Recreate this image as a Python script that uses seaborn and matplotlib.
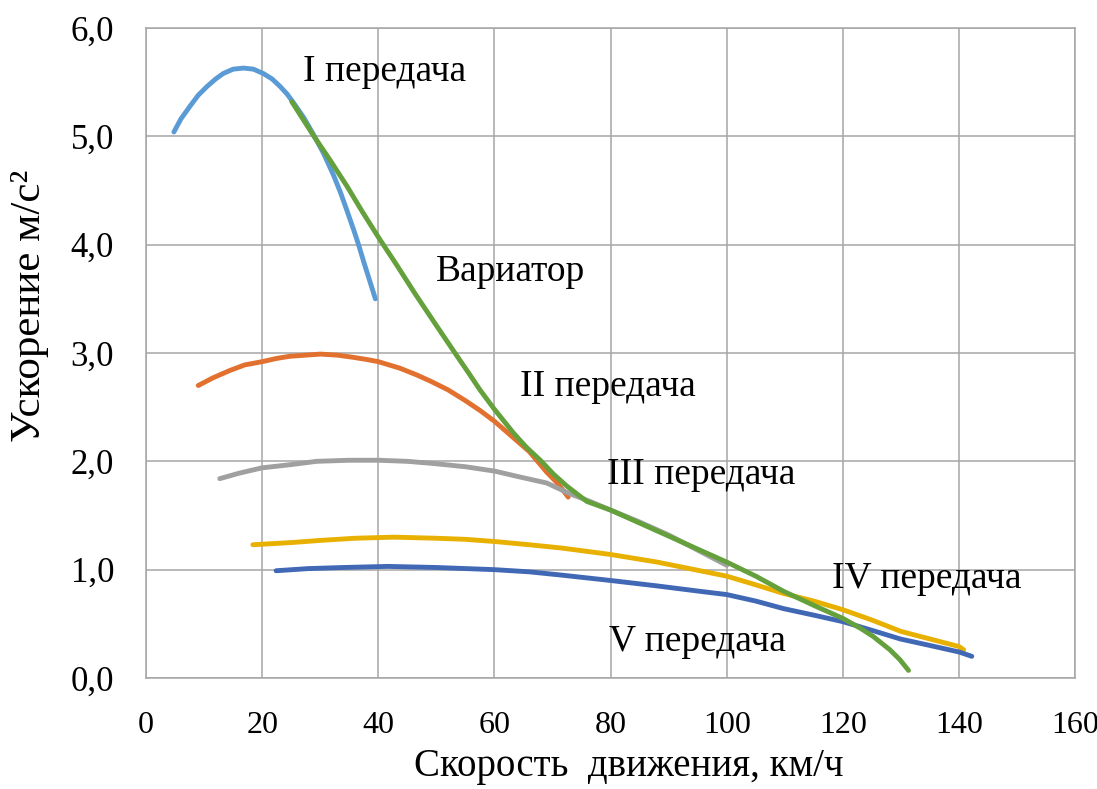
import numpy as np
import pandas as pd
import matplotlib
matplotlib.use("Agg")
import matplotlib.pyplot as plt
import seaborn as sns

# values (speed km/h, acceleration m/s^2)
gear1_x = [4.8, 6, 7.6, 9, 10.5, 12, 13.3, 15, 16.8, 18.5, 20.2, 21.7, 23.1, 24.3, 25.4, 27.2, 28.9, 30.6,
           32.3, 33.5, 34.7, 35.8, 36.6, 37.5, 38.5, 39.5]
gear1_y = [5.04, 5.16, 5.28, 5.38, 5.46, 5.53, 5.58, 5.62, 5.63, 5.62, 5.58, 5.53, 5.46, 5.39, 5.31, 5.17, 5.01, 4.84,
           4.64, 4.48, 4.3, 4.13, 4.0, 3.84, 3.67, 3.5]

gear2_x = [9.0, 11.5, 14.5, 17, 20, 22.5, 24.8, 27.5, 30, 33, 35.7, 38, 40, 43.7, 46.5, 49, 52, 55, 57.5, 60,
           63, 66, 69, 71, 72.7]
gear2_y = [2.70, 2.77, 2.84, 2.89, 2.92, 2.95, 2.97, 2.98, 2.99, 2.98, 2.96, 2.94, 2.92, 2.86, 2.8, 2.74, 2.66, 2.56,
           2.47, 2.37, 2.23, 2.09, 1.9, 1.79, 1.67]

gear3_x = [12.7, 16, 20, 25, 29.4, 35, 40, 45, 49.5, 55, 60, 64, 69, 73, 76, 80, 85, 90, 95, 100]
gear3_y = [1.84, 1.89, 1.94, 1.97, 2.0, 2.01, 2.01, 2.0, 1.98, 1.95, 1.91, 1.86, 1.8, 1.7, 1.64, 1.55, 1.44,
           1.32, 1.18, 1.04]

gear4_x = [18.4, 25, 30, 36, 42.7, 50, 55, 60, 66, 71.5, 80, 88, 95.4, 100, 105, 109.8, 115, 120, 125,
           130, 135, 140, 140.8]
gear4_y = [1.23, 1.25, 1.27, 1.29, 1.30, 1.29, 1.28, 1.26, 1.23, 1.2, 1.14, 1.07, 0.99, 0.94, 0.86, 0.78, 0.71,
           0.63, 0.535, 0.43, 0.36, 0.29, 0.26]

gear5_x = [22.4, 28, 34, 41.6, 50, 60, 66, 71.5, 80, 88, 95.4, 100, 105, 109.8, 115, 120, 125, 129.9, 135,
           140, 142.2]
gear5_y = [0.99, 1.01, 1.02, 1.03, 1.02, 1.0, 0.98, 0.95, 0.9, 0.85, 0.8, 0.77, 0.71, 0.64, 0.58, 0.52, 0.44,
           0.36, 0.3, 0.24, 0.2]

cvt_x = [25.1, 28.8, 31.7, 34.6, 37.3, 40, 43.2, 46.3, 49.8, 53.2, 55.5, 57.5, 60, 63.3, 65.5, 67.9, 70.2, 72.5,
         75.9, 80, 85, 90, 95.4, 100, 105, 109.8, 115, 120, 123, 125.3, 128.1, 129.8, 131.3]
cvt_y = [5.32, 5.01, 4.78, 4.54, 4.3, 4.07, 3.81, 3.55, 3.27, 3.0, 2.82, 2.66, 2.48, 2.26, 2.13, 2.01, 1.88, 1.77,
         1.63, 1.55, 1.43, 1.31, 1.18, 1.07, 0.94, 0.8, 0.67, 0.55, 0.46, 0.38, 0.26, 0.17, 0.07]

series = [
    ("I", gear1_x, gear1_y, "#5B9BD5"),
    ("II", gear2_x, gear2_y, "#E2702E"),
    ("III", gear3_x, gear3_y, "#A0A0A0"),
    ("IV", gear4_x, gear4_y, "#E8B000"),
    ("V", gear5_x, gear5_y, "#4168B5"),
    ("CVT", cvt_x, cvt_y, "#64A03C"),
]

labels = ["I передача", "Вариатор", "II передача", "III передача", "IV передача", "V передача"]
label_x = [27.0, 50.0, 64.4, 79.4, 118.2, 79.7]
label_y = [5.6, 3.75, 2.69, 1.88, 0.92, 0.33]

sns.set_style("white")
plt.rcParams['font.family'] = ['Liberation Serif', 'DejaVu Serif']

fig = plt.figure(figsize=(10.97, 7.89), dpi=100)
ax = fig.add_axes([0.1331, 0.1407, 0.847, 0.8238])

for name, xs, ys, col in series:
    df = pd.DataFrame({"x": xs, "y": ys})
    sns.lineplot(data=df, x="x", y="y", ax=ax, color=col, linewidth=3.5,
                 sort=False, solid_capstyle="round", solid_joinstyle="round")

for txt, tx, ty in zip(labels, label_x, label_y):
    ax.text(tx, ty, txt, fontsize=27, va="center", ha="left", color="black")

ax.set_xlim(0, 160)
ax.set_ylim(0, 6)
ax.set_xticks(np.arange(0, 161, 20))
ax.set_yticks(np.arange(0, 6.1, 1))
ax.set_yticklabels([f"{v:.1f}".replace(".", ",") for v in np.arange(0, 6.1, 1)])
ax.grid(True, color="#A6A6A6", linewidth=1.1)
ax.set_axisbelow(True)
for sp in ax.spines.values():
    sp.set_color("#A6A6A6")
    sp.set_linewidth(1.1)
ax.tick_params(axis="y", length=0, labelsize=25, pad=23, labelcolor="black")
ax.tick_params(axis="x", length=0, labelsize=23, pad=24, labelcolor="black")
ax.set_xlabel("Скорость  движения, км/ч", fontsize=28, color="black")
ax.xaxis.set_label_coords(0.52, -0.108)
ax.set_ylabel("Ускорение м/с²", fontsize=31, color="black")
ax.yaxis.set_label_coords(-0.104, 0.572)

fig.savefig("out.png", dpi=100)
